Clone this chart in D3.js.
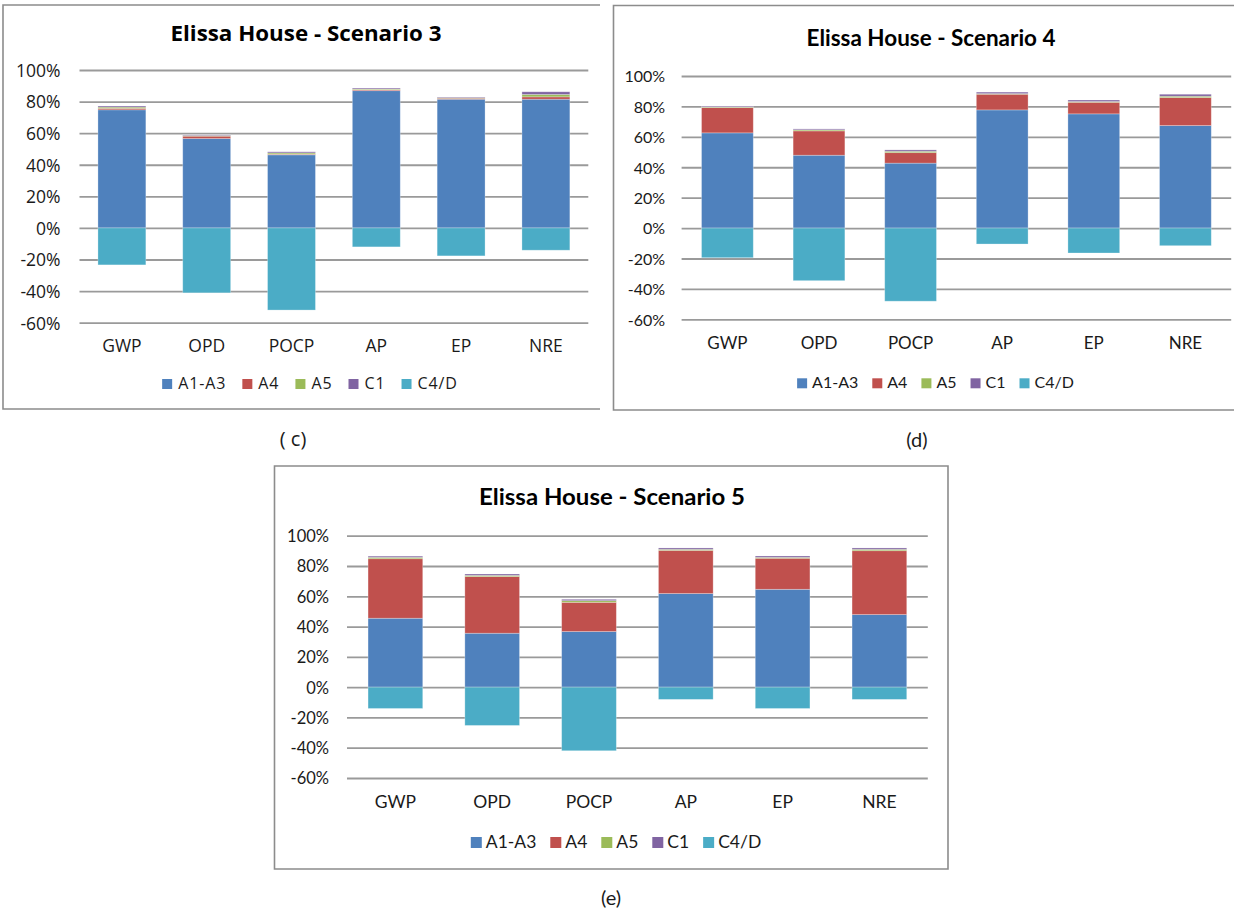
<!DOCTYPE html>
<html>
<head>
<meta charset="utf-8">
<script src="https://cdn.jsdelivr.net/npm/d3@7"></script>
<style>
  html, body { margin: 0; padding: 0; background: #ffffff; }
  svg { display: block; }
</style>
</head>
<body>
<svg id="fig" width="1234" height="909"></svg>
<script>
// Impact categories and life-cycle stages
const categories = ["GWP", "OPD", "POCP", "AP", "EP", "NRE"];
const stages = ["A1-A3", "A4", "A5", "C1", "C4/D"];
const stageColors = ["#4F81BD", "#C0504D", "#9BBB59", "#8064A2", "#4BACC6"];
const yTickValues = [-60, -40, -20, 0, 20, 40, 60, 80, 100];

// Scenario 3 (%)
const sc3A1A3 = [74.8, 56.6, 46.3, 86.9, 81.5, 81.5];
const sc3A4   = [0.9, 1.5, 0.4, 0.6, 0.6, 1.5];
const sc3A5   = [0.8, 0.4, 0.8, 0.5, 0.4, 1.5];
const sc3C1   = [0.7, 0.4, 0.7, 0.6, 0.4, 1.7];
const sc3C4D  = [-23.4, -41.1, -52.0, -12.0, -17.7, -14.1];

// Scenario 4 (%)
const sc4A1A3 = [62.6, 47.9, 42.7, 77.7, 75.1, 67.4];
const sc4A4   = [16.6, 16.0, 6.9, 10.3, 7.6, 18.4];
const sc4A5   = [0.4, 0.7, 0.9, 0.4, 0.5, 0.9];
const sc4C1   = [0.5, 0.6, 0.9, 1.0, 1.0, 1.3];
const sc4C4D  = [-19.5, -34.6, -48.1, -10.5, -16.4, -11.6];

// Scenario 5 (%)
const sc5A1A3 = [45.5, 35.6, 36.7, 61.8, 64.6, 47.9];
const sc5A4   = [39.3, 37.4, 19.3, 28.5, 20.5, 42.2];
const sc5A5   = [0.9, 0.8, 1.1, 0.7, 0.6, 0.9];
const sc5C1   = [0.8, 0.9, 0.9, 0.9, 0.9, 0.9];
const sc5C4D  = [-14.1, -25.3, -42.0, -8.1, -14.1, -8.1];

const titles = ["Elissa House - Scenario 3", "Elissa House - Scenario 4", "Elissa House - Scenario 5"];
const captions = ["( c)", "(d)", "(e)"];

// Layout of each chart frame
const panels = [
  {
    series: [sc3A1A3, sc3A4, sc3A5, sc3C1, sc3C4D],
    font: "'Open Sans', sans-serif",
    frame: { x0: 3, y0: 5, x1: 600, y1: 409, right: false },
    plot: { x0: 79.5, x1: 588.3, yTop: 70, yBottom: 322.7 },
    title: { cx: 306, y: 41, size: 20.5, len: 271 },
    yLab: { size: 17.5, pad: 19 },
    xLab: { size: 17.5, y: 352 },
    legend: { cx: 310, y: 389, size: 16, spacing: 0.9, sq: 10, gapText: 6, gapItem: 16 },
    caption: { cx: 293, y: 446, size: 20, font: "'Open Sans', sans-serif" }
  },
  {
    series: [sc4A1A3, sc4A4, sc4A5, sc4C1, sc4C4D],
    font: "Lato, sans-serif",
    frame: { x0: 613.5, y0: 5.5, x1: 1234, y1: 410, right: false },
    plot: { x0: 681.6, x1: 1231.2, yTop: 76, yBottom: 319.3 },
    title: { cx: 931, y: 46, size: 23, len: 249 },
    yLab: { size: 16, pad: 16.5 },
    xLab: { size: 17, y: 349.3 },
    legend: { cx: 935.5, y: 388.3, size: 16, spacing: 0, sq: 10, gapText: 5, gapItem: 14 },
    caption: { cx: 917, y: 446.5, size: 20, font: "Lato, sans-serif" }
  },
  {
    series: [sc5A1A3, sc5A4, sc5A5, sc5C1, sc5C4D],
    font: "Lato, sans-serif",
    frame: { x0: 274.5, y0: 466, x1: 948, y1: 869, right: true },
    plot: { x0: 347, x1: 927.8, yTop: 535.7, yBottom: 778 },
    title: { cx: 612, y: 505, size: 22.5, len: 266 },
    yLab: { size: 16.5, pad: 18 },
    xLab: { size: 17.5, y: 808.3 },
    legend: { cx: 616, y: 848, size: 17.5, spacing: 0, sq: 11, gapText: 4, gapItem: 14 },
    caption: { cx: 611, y: 905, size: 20, font: "Lato, sans-serif" }
  }
];

const svg = d3.select("#fig");
const gridColor = "#9a9a9a";
const frameColor = "#8c8c8c";
const textColor = "#1a1a1a";

panels.forEach((p, i) => {
  const g = svg.append("g").attr("class", "panel");

  // frame (left, top, bottom edges; right edge where present)
  const f = p.frame;
  const framePath = d3.path();
  if (f.right) {
    framePath.rect(f.x0, f.y0, f.x1 - f.x0, f.y1 - f.y0);
  } else {
    framePath.moveTo(f.x1, f.y0); framePath.lineTo(f.x0, f.y0);
    framePath.lineTo(f.x0, f.y1); framePath.lineTo(f.x1, f.y1);
  }
  g.append("path").attr("d", framePath.toString())
    .attr("fill", "none").attr("stroke", frameColor).attr("stroke-width", 1.6);

  // scales
  const x = d3.scaleBand().domain(categories)
    .range([p.plot.x0, p.plot.x1])
    .paddingInner(0.435).paddingOuter(0.2175);
  const y = d3.scaleLinear().domain([-60, 100]).range([p.plot.yBottom, p.plot.yTop]);

  // y axis with gridlines
  const yAxis = d3.axisLeft(y)
    .tickValues(yTickValues)
    .tickFormat(d => d + "%")
    .tickSize(-(p.plot.x1 - p.plot.x0))
    .tickPadding(p.yLab.pad);
  const ya = g.append("g").attr("transform", `translate(${p.plot.x0},0)`).call(yAxis);
  ya.select(".domain").remove();
  ya.selectAll(".tick line").attr("stroke", gridColor).attr("stroke-width", 1.8);
  ya.selectAll(".tick text")
    .attr("fill", textColor)
    .attr("font-family", p.font)
    .attr("font-size", p.yLab.size)
    .attr("dy", "0.36em");

  // stacked bars
  const rows = categories.map((c, k) => {
    const r = { category: c };
    stages.forEach((s, j) => { r[s] = p.series[j][k]; });
    return r;
  });
  const stacked = d3.stack().keys(stages).offset(d3.stackOffsetDiverging)(rows);
  g.append("g").selectAll("g")
    .data(stacked)
    .join("g")
      .attr("fill", (d, j) => stageColors[j])
    .selectAll("rect")
    .data(d => d)
    .join("rect")
      .attr("x", d => x(d.data.category))
      .attr("width", x.bandwidth())
      .attr("y", d => y(Math.max(d[0], d[1])))
      .attr("height", d => Math.abs(y(d[0]) - y(d[1])))
      .attr("stroke", "rgba(255,255,255,0.35)")
      .attr("stroke-width", 0.8);

  // category labels
  const xAxis = d3.axisBottom(x).tickSize(0).tickPadding(0);
  const xa = g.append("g").attr("transform", `translate(0,${p.xLab.y})`).call(xAxis);
  xa.select(".domain").remove();
  xa.selectAll(".tick text")
    .attr("y", 0).attr("dy", 0)
    .attr("fill", textColor)
    .attr("font-family", p.font)
    .attr("font-size", p.xLab.size);

  // title
  g.append("text")
    .attr("x", p.title.cx).attr("y", p.title.y)
    .attr("text-anchor", "middle")
    .attr("font-family", p.font)
    .attr("font-weight", "bold")
    .attr("font-size", p.title.size)
    .attr("textLength", p.title.len)
    .attr("lengthAdjust", "spacingAndGlyphs")
    .attr("fill", "#000")
    .text(titles[i]);

  // legend
  const L = p.legend;
  const lg = g.append("g");
  const items = stages.map((s, j) => {
    const it = lg.append("g");
    it.append("rect").attr("width", L.sq).attr("height", L.sq)
      .attr("y", L.y - L.sq).attr("fill", stageColors[j]);
    const t = it.append("text")
      .attr("y", L.y)
      .attr("font-family", p.font)
      .attr("font-size", L.size)
      .attr("letter-spacing", L.spacing)
      .attr("fill", textColor)
      .text(s);
    return { it, t, w: t.node().getComputedTextLength() };
  });
  const total = d3.sum(items, d => L.sq + L.gapText + d.w) + L.gapItem * (items.length - 1);
  let cursor = L.cx - total / 2;
  items.forEach(d => {
    d.it.select("rect").attr("x", cursor);
    d.t.attr("x", cursor + L.sq + L.gapText);
    cursor += L.sq + L.gapText + d.w + L.gapItem;
  });

  // caption under the chart
  svg.append("text")
    .attr("x", p.caption.cx).attr("y", p.caption.y)
    .attr("text-anchor", "middle")
    .attr("font-family", p.caption.font)
    .attr("font-size", p.caption.size)
    .attr("fill", textColor)
    .text(captions[i]);
});
</script>
</body>
</html>
